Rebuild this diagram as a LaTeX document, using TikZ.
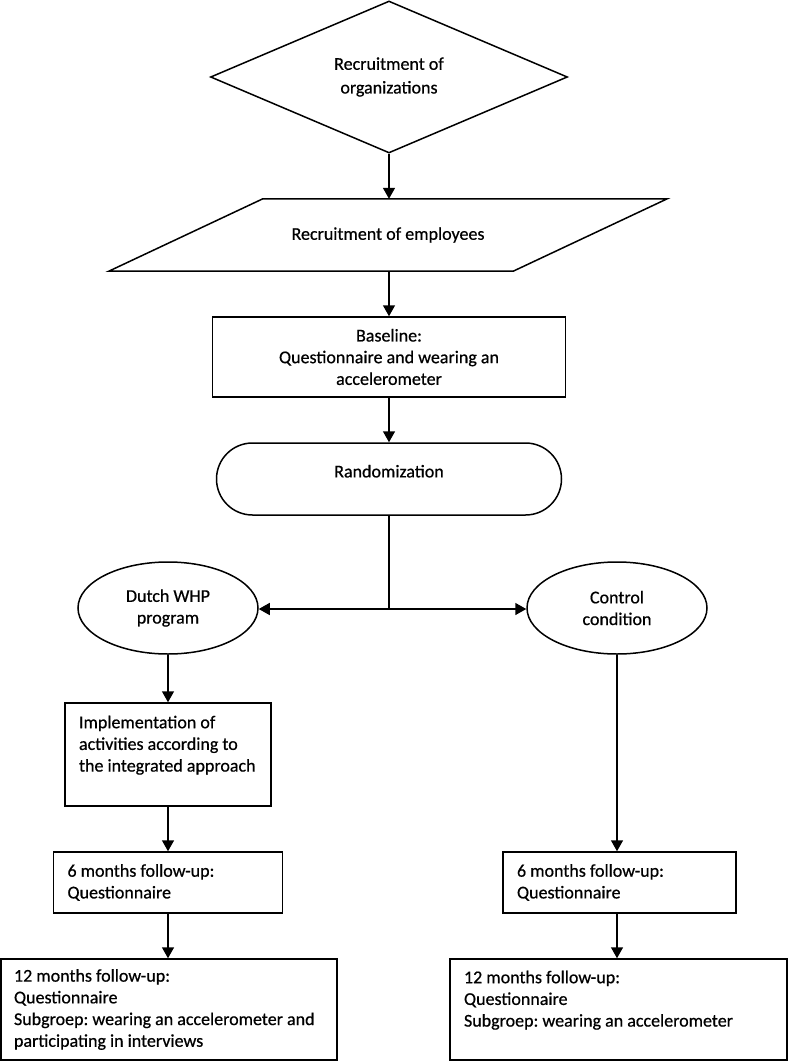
\documentclass[tikz,border=0pt]{standalone}
\usepackage{fontspec}
\setmainfont{Carlito}[FakeBold=0.6]
\usetikzlibrary{shapes.geometric,shapes.misc,arrows.meta}
\begin{document}
\frenchspacing
\begin{tikzpicture}[x=1pt,y=-1pt,
  every node/.style={font=\fontsize{18}{21.7}\selectfont},
  shp/.style={draw, line width=1.5pt, inner sep=0pt},
  boxl/.style={draw, line width=1.5pt, inner xsep=14pt, inner ysep=0pt, align=flush left},
  conn/.style={line width=1.5pt, -{Triangle[length=11pt,width=12pt]}},
  plain/.style={line width=1.5pt}]
\useasboundingbox (0,0) rectangle (788,1062);
% nodes
\node[shp, diamond, minimum width=357pt, minimum height=152pt, align=center] (org) at (389,77) {Recruitment of\\[2pt]organizations};
\node[minimum width=558pt, minimum height=72pt, inner sep=0pt] (emp) at (388,235) {Recruitment of employees};
\draw[line width=1.5pt, line join=miter] (emp.south west) -- ([xshift=154pt]emp.north west) -- (emp.north east) -- ([xshift=-154pt]emp.south east) -- cycle;
\node[shp, rectangle, minimum width=353pt, minimum height=80pt, align=center] (base) at (389,357) {Baseline:\\Questionnaire and wearing an\\accelerometer};
\node[shp, rounded rectangle, minimum width=345pt, minimum height=72pt, align=center] (rand) at (389,479) {Randomization\\[-6pt]\mbox{}};
\node[shp, ellipse, minimum width=180pt, minimum height=92pt, align=center] (whp) at (168,608) {Dutch WHP\\program};
\node[shp, ellipse, minimum width=180pt, minimum height=92pt, align=center] (ctrl) at (617,608) {Control\\condition};
\coordinate (split) at (389,609);
\node[boxl, text width=178pt, minimum height=103pt] (impl) at (168,754.5) {Implementation of\\activities according to\\the integrated approach\\\mbox{}};
\node[boxl, text width=201pt, minimum height=61pt] (sixl) at (168,882.5) {6 months follow-up:\\Questionnaire};
\node[boxl, text width=310pt, minimum height=101pt, inner xsep=13pt] (twl) at (169,1009.5) {12 months follow-up:\\Questionnaire\\Subgroep: wearing an accelerometer and\\participating in interviews};
\node[boxl, text width=205pt, minimum height=61pt] (sixr) at (619.5,882.5) {6 months follow-up:\\Questionnaire};
\node[boxl, text width=309pt, minimum height=101pt] (twr) at (618.5,1009.5) {12 months follow-up:\\Questionnaire\\Subgroep: wearing an accelerometer\\\mbox{}};
% connectors
\draw[conn] (org.south) -- (org.south |- emp.north);
\draw[conn] (emp.south -| base.north) -- (base.north);
\draw[conn] (base.south) -- (rand.north);
\draw[plain] (rand.south -| split) -- (split);
\draw[conn] (split) -- (split -| whp.east);
\draw[conn] (split) -- (split -| ctrl.west);
\draw[conn] (whp.south) -- (whp.south |- impl.north);
\draw[conn] (impl.south -| whp.south) -- (whp.south |- sixl.north);
\draw[conn] (sixl.south -| whp.south) -- (whp.south |- twl.north);
\draw[conn] (ctrl.south) -- (ctrl.south |- sixr.north);
\draw[conn] (sixr.south -| ctrl.south) -- (ctrl.south |- twr.north);
\end{tikzpicture}
\end{document}
